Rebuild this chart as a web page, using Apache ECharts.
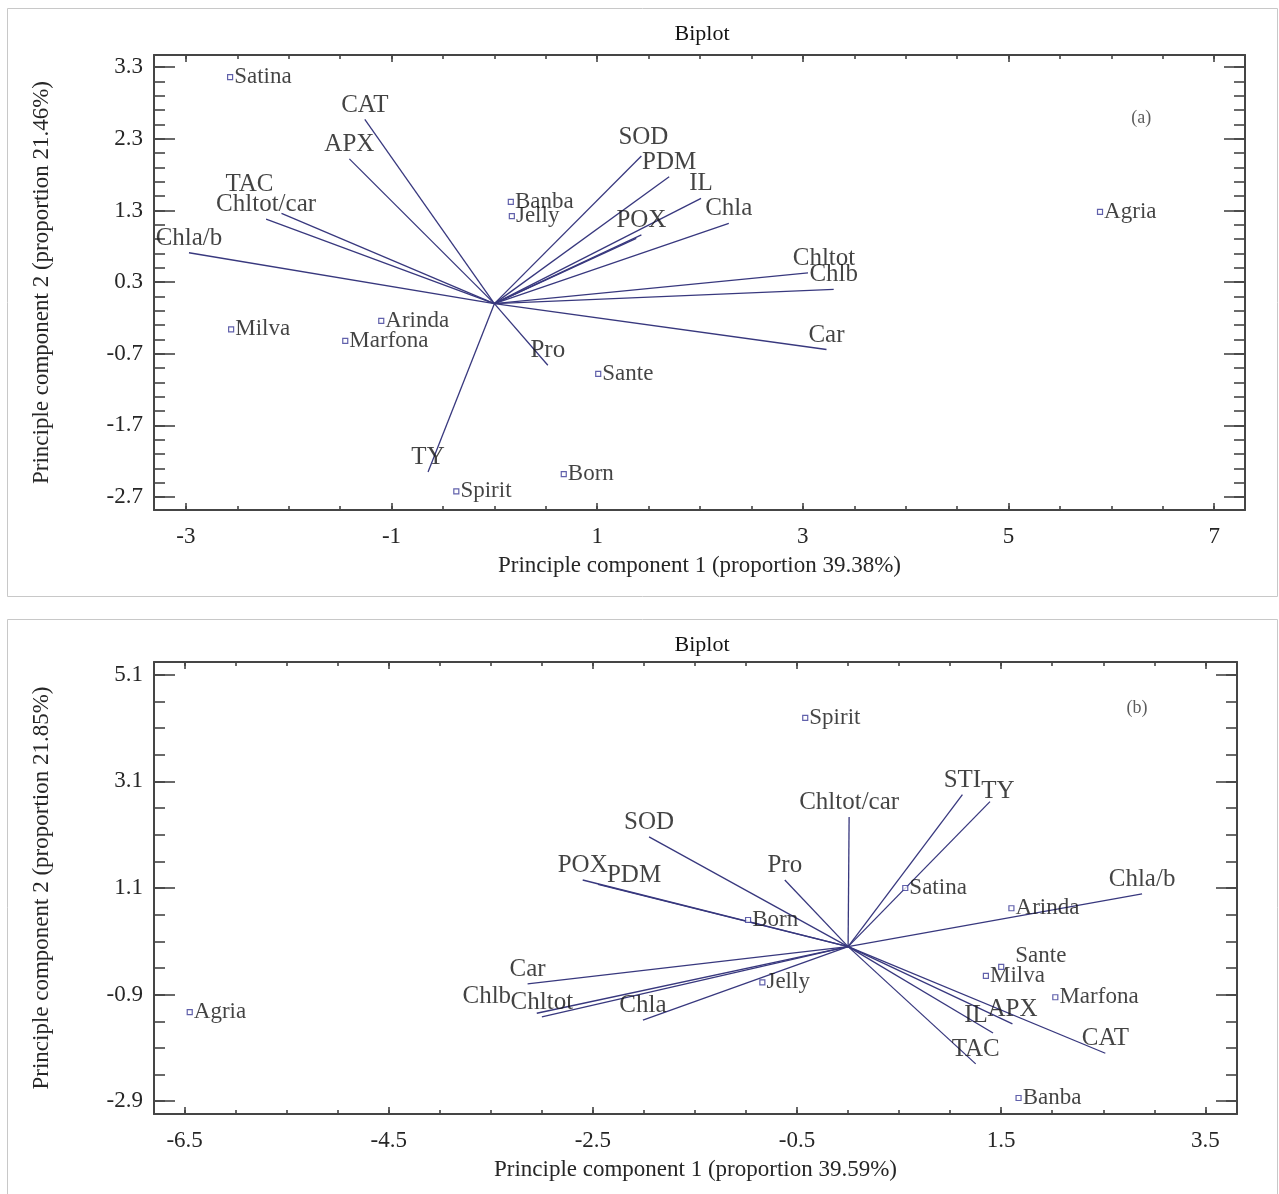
<!DOCTYPE html>
<html>
<head>
<meta charset="utf-8">
<script src="https://cdn.jsdelivr.net/npm/echarts@6/dist/echarts.min.js"></script>
<style>html,body{margin:0;padding:0;background:#fff}#c{width:1279px;height:1194px}</style>
</head>
<body>
<div id="c"></div>
<script>
// ---------- DATA: panel (a) ----------
const varNamesA = ['CAT','APX','TAC','Chltot/car','Chla/b','SOD','PDM','IL','POX','STI','Chla','Chltot','Chlb','Car','Pro','TY'];
const varXA = [-1.26,-1.41,-2.07,-2.22,-2.97,1.43,1.70,2.01,1.43,1.38,2.28,3.05,3.30,3.23,0.52,-0.645];
const varYA = [2.57,2.02,1.26,1.18,0.71,2.06,1.77,1.47,0.96,0.91,1.12,0.43,0.20,-0.64,-0.86,-2.35];
const obsNamesA = ['Satina','Banba','Jelly','Agria','Milva','Arinda','Marfona','Sante','Born','Spirit'];
const obsXA = [-2.57,0.16,0.17,5.89,-2.56,-1.10,-1.45,1.01,0.675,-0.37];
const obsYA = [3.16,1.42,1.22,1.28,-0.36,-0.24,-0.52,-0.98,-2.38,-2.62];
const xTicksA = [-3,-1,1,3,5,7];
const yTicksA = [3.3,2.3,1.3,0.3,-0.7,-1.7,-2.7];

// ---------- DATA: panel (b) ----------
const varNamesB = ['Chltot/car','STI','TY','SOD','Pro','POX','PDM','Car','Chlb','Chltot','Chla','Chla/b','CAT','APX','IL','TAC'];
const varXB = [0.01,1.12,1.39,-1.95,-0.62,-2.60,-2.45,-3.14,-3.05,-3.00,-2.01,2.88,2.52,1.61,1.42,1.25];
const varYB = [2.43,2.85,2.72,2.06,1.25,1.25,1.17,-0.70,-1.25,-1.32,-1.38,0.99,-2.00,-1.45,-1.62,-2.20];
const obsNamesB = ['Spirit','Satina','Arinda','Born','Sante','Milva','Marfona','Jelly','Agria','Banba'];
const obsXB = [-0.42,0.56,1.60,-0.98,1.50,1.35,2.03,-0.84,-6.45,1.67];
const obsYB = [4.29,1.10,0.72,0.50,-0.38,-0.55,-0.95,-0.67,-1.23,-2.84];
const xTicksB = [-6.5,-4.5,-2.5,-0.5,1.5,3.5];
const yTicksB = [5.1,3.1,1.1,-0.9,-2.9];

const titleText = 'Biplot';
const xNameA = 'Principle component 1 (proportion 39.38%)';
const yNameA = 'Principle component 2 (proportion 21.46%)';
const xNameB = 'Principle component 1 (proportion 39.59%)';
const yNameB = 'Principle component 2 (proportion 21.85%)';

// ---------- STYLE ----------
const FONT = '"Liberation Serif","Times New Roman",serif';
const TXT = '#141414';
const AX = '#454545';
const VEC = '#38387e';
const MK = '#3a3a96';
const nudgeA = { 'TAC': [-32,-14], 'Chltot': [16,0], 'SOD': [2,-4] };
const nudgeB = { 'TY': [8,4], 'PDM': [36,6], 'Chlb': [-50,-2], 'IL': [-17,-3] };
const obsNudgeB = { 'Sante': [10,-11] };
const hideLabel = { 'STI_a': true };

function steps(a, b, s) {
  const n = Math.round((b - a) / s);
  const out = [];
  for (let i = 0; i <= n; i++) out.push(+(a + i * s).toFixed(3));
  return out;
}

function mkAxis(gi, pos, min, max, ticks, len, labels, showLine, extra) {
  const vertical = pos === 'left' || pos === 'right';
  return Object.assign({
    type: 'value', gridIndex: gi, position: pos, min: min, max: max,
    splitLine: { show: false },
    axisLine: { show: showLine, onZero: false, lineStyle: { color: AX, width: 2 } },
    axisTick: { show: true, inside: true, length: len, customValues: ticks, lineStyle: { color: AX, width: 1.6 } },
    axisLabel: labels ? {
      show: true, customValues: labels, margin: vertical ? 11 : 15,
      fontFamily: FONT, fontSize: 23, color: '#262626',
      formatter: v => String(+v.toFixed(1))
    } : { show: false },
    nameTextStyle: { fontFamily: FONT, fontSize: 23, color: '#262626' }
  }, extra || {});
}

function axesFor(gi, xr, yr, xMaj, xMin, yMaj, yMin, xName, yName) {
  const xs = [
    mkAxis(gi, 'bottom', xr[0], xr[1], xMaj, 7, xMaj, true, { name: xName, nameLocation: 'middle', nameGap: 44 }),
    mkAxis(gi, 'bottom', xr[0], xr[1], xMin, 4, null, false),
    mkAxis(gi, 'top', xr[0], xr[1], xMaj, 7, null, true),
    mkAxis(gi, 'top', xr[0], xr[1], xMin, 4, null, false)
  ];
  const ys = [
    mkAxis(gi, 'left', yr[0], yr[1], yMaj, 21, yMaj, true, { name: yName, nameLocation: 'middle', nameGap: 101 }),
    mkAxis(gi, 'left', yr[0], yr[1], yMin, 11, null, false),
    mkAxis(gi, 'right', yr[0], yr[1], yMaj, 21, null, true),
    mkAxis(gi, 'right', yr[0], yr[1], yMin, 11, null, false)
  ];
  return { xs, ys };
}

const A = axesFor(0, [-3.31, 7.30], [-2.88, 3.47], xTicksA, steps(-3, 7, 0.5), yTicksA, steps(-2.7, 3.3, 0.2), xNameA, yNameA);
const B = axesFor(1, [-6.80, 3.81], [-3.14, 5.34], xTicksB, steps(-6.5, 3.5, 0.5), yTicksB, steps(-2.9, 5.1, 0.5), xNameB, yNameB);

function vectorSeries(xi, names, xs, ys, nudge, tag) {
  const lines = names.map((n, i) => ({ coords: [[0, 0], [xs[i], ys[i]]] }));
  const labels = names.map((n, i) => ({
    name: n, value: [xs[i], ys[i]],
    label: { show: !hideLabel[n + '_' + tag], offset: nudge[n] || [0, 0] }
  }));
  return [
    { type: 'lines', coordinateSystem: 'cartesian2d', xAxisIndex: xi, yAxisIndex: xi, silent: true,
      polyline: false, lineStyle: { color: VEC, width: 1.3, opacity: 1 }, data: lines, z: 3 },
    { type: 'scatter', xAxisIndex: xi, yAxisIndex: xi, silent: true, symbolSize: 0.01, data: labels, z: 4,
      label: { show: true, position: 'top', distance: 2, formatter: p => p.name,
        fontFamily: FONT, fontSize: 25, color: TXT } }
  ];
}

function obsSeries(xi, names, xs, ys, nudge) {
  return {
    type: 'scatter', xAxisIndex: xi, yAxisIndex: xi, silent: true, symbol: 'rect', symbolSize: 5, z: 5,
    itemStyle: { color: '#ffffff', borderColor: MK, borderWidth: 1.2 },
    data: names.map((n, i) => ({ name: n, value: [xs[i], ys[i]], label: { offset: nudge[n] || [0, 0] } })),
    label: { show: true, position: 'right', distance: 1, formatter: p => p.name,
      fontFamily: FONT, fontSize: 23, color: TXT }
  };
}

function tagSeries(xi, text, x, y) {
  return { type: 'scatter', xAxisIndex: xi, yAxisIndex: xi, silent: true, symbolSize: 0.01,
    data: [{ name: text, value: [x, y] }],
    label: { show: true, position: 'inside', formatter: p => p.name, fontFamily: FONT, fontSize: 18, color: '#333' } };
}

const chart = echarts.init(document.getElementById('c'), null, { renderer: 'canvas' });
chart.setOption({
  animation: false,
  backgroundColor: '#ffffff',
  title: [
    { text: titleText, left: 697, top: 18, textAlign: 'center', textStyle: { fontFamily: FONT, fontSize: 22, fontWeight: 'normal', color: TXT } },
    { text: titleText, left: 697, top: 629, textAlign: 'center', textStyle: { fontFamily: FONT, fontSize: 22, fontWeight: 'normal', color: TXT } }
  ],
  graphic: [
    { type: 'rect', shape: { x: 7.5, y: 8.5, width: 1270, height: 588 }, style: { fill: 'none', stroke: '#c8c8c8', lineWidth: 1 }, silent: true },
    { type: 'rect', shape: { x: 7.5, y: 619.5, width: 1270, height: 600 }, style: { fill: 'none', stroke: '#c8c8c8', lineWidth: 1 }, silent: true }
  ],
  grid: [
    { left: 154, top: 55, width: 1091, height: 455 },
    { left: 154, top: 662, width: 1083, height: 452 }
  ],
  xAxis: A.xs.concat(B.xs),
  yAxis: A.ys.concat(B.ys),
  series: [].concat(
    vectorSeries(0, varNamesA, varXA, varYA, nudgeA, 'a'),
    [obsSeries(0, obsNamesA, obsXA, obsYA, {}), tagSeries(0, '(a)', 6.29, 2.59)],
    vectorSeries(4, varNamesB, varXB, varYB, nudgeB, 'b'),
    [obsSeries(4, obsNamesB, obsXB, obsYB, obsNudgeB), tagSeries(4, '(b)', 2.83, 4.48)]
  )
});
</script>
</body>
</html>
